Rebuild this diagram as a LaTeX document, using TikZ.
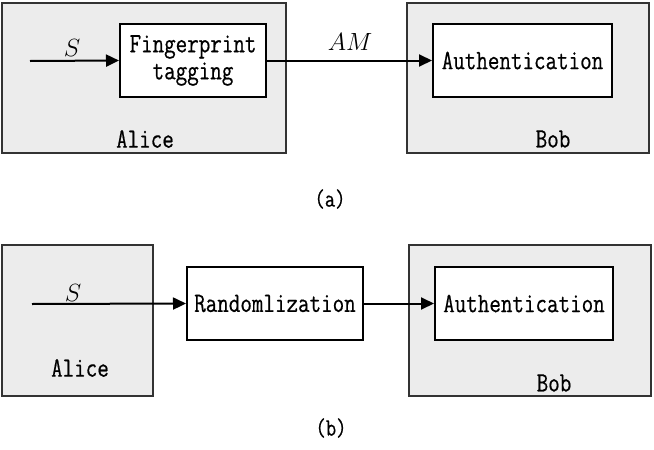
\documentclass[tikz,border=0pt]{standalone}
\usepackage{fontspec}
\newfontfamily\blockfont[FakeStretch=0.8, FakeBold=0.5]{Latin Modern Mono}
\usetikzlibrary{arrows.meta,positioning}
\definecolor{partygray}{HTML}{ECECEC}
\tikzset{
  party/.style={draw=black!80, fill=partygray, line width=1.2pt,
    minimum width=#1, minimum height=150pt, inner sep=0pt},
  party/.default=242pt,
  block/.style={draw, fill=white, line width=2pt, align=center,
    minimum height=73pt, inner sep=0pt, font=\blockfont\fontsize{28}{28}\selectfont},
  who/.style={font=\blockfont\fontsize{28}{28}\selectfont, inner sep=0pt},
  sub/.style={font=\blockfont\fontsize{25}{25}\selectfont, inner sep=0pt},
  flow/.style={-{Triangle[length=13pt, width=12pt]}, line width=2pt},
  var/.style={font=\fontsize{25}{25}\selectfont, inner sep=0pt},
}

\begin{document}
\begin{tikzpicture}[x=1pt, y=-1pt]
\useasboundingbox (0,0) rectangle (654,450);

% Panel (a)
\node[party=284pt] (alicea) at (144,78) {};
\node[party] (boba) at (528,78) {};
\node[block, minimum width=146pt] (tagging) at (193,60.5) {Fingerprint\\[-1pt]tagging};
\node[block, minimum width=179pt] (autha) at (522.5,60.5) {Authentication};
\coordinate (sina) at (30,61);
\node[who] (alicenamea) at (145,139) {Alice};
\node[who] (bobnamea) at (553,139) {Bob};

\draw[flow] (sina) -- (tagging.west);
\draw[flow] (tagging.east) -- (autha.west);
\node[var] (sa) at (72,48) {$S$};
\node[var] (am) at (350,42) {$AM$};

\node[sub] (capa) at (330,199) {(a)};

% Panel (b)
\node[party=151pt, minimum height=151pt] (aliceb) at (77.5,320.5) {};
\node[party, minimum height=151pt] (bobb) at (530,320.5) {};
\node[block, minimum width=176pt] (random) at (275,303.5) {Randomlization};
\node[block, minimum width=178pt] (authb) at (524,303.5) {Authentication};
\coordinate (sinb) at (32,304);
\node[who] (alicenameb) at (80,368) {Alice};
\node[who] (bobnameb) at (554,383) {Bob};

\draw[flow] (sinb) -- (random.west);
\draw[flow] (random) -- (authb);
\node[var] (sb) at (73,293) {$S$};

\node[sub] (capb) at (331,428) {(b)};

\end{tikzpicture}
\end{document}
